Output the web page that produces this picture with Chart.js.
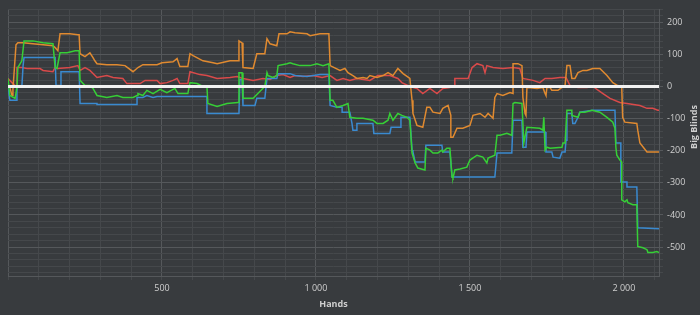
<!DOCTYPE html>
<html>
<head>
<meta charset="utf-8">
<script src="https://cdn.jsdelivr.net/npm/chart.js@4.4.1/dist/chart.umd.min.js"></script>
<style>
  html, body { margin: 0; padding: 0; background: #383b3e; }
</style>
</head>
<body>
<canvas id="chart" width="700" height="315"></canvas>
<script>
// [hand, big blinds] pairs
const orangeData = [[0,0],[6,-3],[13,-28],[16,-10],[26,130],[32,136],[49,136],[81,133],[114,130],[146,127],[153,121],[162,111],[169,164],[201,164],[227,161],[231,161],[234,102],[250,93],[266,105],[276,90],[282,80],[289,71],[321,68],[354,68],[380,65],[406,46],[422,59],[438,68],[484,68],[500,74],[536,77],[549,87],[558,62],[568,62],[584,62],[591,102],[601,96],[633,80],[666,74],[679,71],[721,80],[747,80],[750,142],[760,136],[763,59],[796,56],[808,102],[834,102],[841,149],[851,133],[873,127],[880,164],[906,164],[916,170],[932,167],[971,164],[981,158],[1013,164],[1042,164],[1046,65],[1078,50],[1094,56],[1104,43],[1120,34],[1133,25],[1153,28],[1166,25],[1175,34],[1198,28],[1218,34],[1234,43],[1250,34],[1266,56],[1283,40],[1305,25],[1312,-43],[1315,-84],[1328,-121],[1347,-127],[1360,-65],[1370,-65],[1380,-80],[1403,-84],[1412,-68],[1429,-59],[1438,-90],[1438,-158],[1445,-158],[1458,-130],[1477,-130],[1500,-121],[1510,-90],[1533,-84],[1549,-96],[1559,-84],[1572,-96],[1575,-99],[1581,-34],[1588,-22],[1607,-28],[1630,-19],[1640,-22],[1640,71],[1656,71],[1669,65],[1672,-34],[1679,-84],[1682,-90],[1685,-6],[1688,-3],[1718,-6],[1737,-3],[1744,-22],[1747,-28],[1750,-3],[1760,-3],[1766,-12],[1786,-12],[1799,-3],[1809,3],[1815,65],[1825,65],[1831,25],[1841,25],[1851,43],[1867,50],[1880,50],[1899,56],[1922,56],[1945,34],[1964,12],[1980,3],[1993,-3],[1996,-96],[2003,-111],[2042,-115],[2045,-136],[2052,-176],[2075,-204],[2114,-204]];

const redData = [[0,25],[16,9],[26,0],[29,59],[45,59],[62,56],[104,56],[114,50],[146,46],[153,59],[162,56],[201,59],[227,65],[234,50],[250,59],[266,50],[289,28],[321,34],[341,28],[373,25],[386,9],[429,9],[445,19],[484,19],[494,9],[516,12],[536,19],[549,25],[558,9],[584,9],[591,46],[623,37],[646,34],[679,25],[721,28],[744,31],[763,25],[796,19],[828,25],[851,22],[873,34],[893,37],[916,28],[932,34],[958,31],[990,34],[1020,28],[1046,34],[1068,19],[1088,25],[1110,19],[1133,25],[1175,19],[1201,34],[1240,34],[1266,25],[1279,12],[1305,0],[1328,-6],[1347,-22],[1370,-6],[1393,-22],[1412,-6],[1435,-3],[1451,3],[1451,25],[1494,25],[1507,59],[1523,71],[1542,65],[1549,43],[1555,65],[1575,59],[1607,56],[1640,59],[1662,56],[1672,25],[1705,19],[1727,12],[1744,25],[1766,25],[1792,28],[1812,28],[1825,3],[1851,-3],[1880,-3],[1899,0],[1932,-22],[1955,-37],[1987,-50],[2010,-53],[2052,-59],[2075,-68],[2094,-68],[2110,-74],[2114,-74]];

const greenData = [[0,25],[6,-28],[23,-37],[29,-3],[32,59],[45,80],[52,142],[81,142],[114,136],[146,133],[153,59],[159,56],[169,105],[192,105],[218,111],[231,111],[234,19],[250,3],[266,3],[276,-6],[289,-28],[321,-34],[354,-28],[373,-34],[406,-34],[419,-28],[422,-22],[438,-28],[451,-12],[471,-22],[494,-9],[516,-19],[542,-6],[552,-22],[584,-22],[591,12],[614,9],[633,0],[646,0],[649,-53],[679,-62],[711,-53],[747,-50],[750,43],[760,43],[763,-37],[796,-37],[834,0],[841,43],[844,34],[860,28],[873,34],[877,65],[906,71],[916,74],[925,71],[948,65],[981,65],[1003,71],[1023,65],[1042,71],[1046,-43],[1055,-43],[1068,-65],[1088,-59],[1104,-53],[1110,-96],[1133,-99],[1153,-99],[1185,-105],[1198,-115],[1218,-115],[1234,-105],[1240,-84],[1250,-105],[1266,-84],[1279,-90],[1296,-96],[1305,-105],[1312,-207],[1322,-238],[1331,-254],[1354,-260],[1357,-192],[1370,-198],[1380,-207],[1396,-207],[1409,-198],[1412,-204],[1425,-192],[1435,-192],[1442,-282],[1445,-285],[1451,-260],[1468,-257],[1490,-251],[1500,-229],[1523,-214],[1542,-220],[1555,-238],[1559,-223],[1581,-214],[1588,-152],[1598,-152],[1620,-146],[1636,-152],[1640,-53],[1646,-50],[1669,-53],[1675,-176],[1685,-127],[1727,-130],[1737,-136],[1740,-96],[1744,-198],[1750,-189],[1760,-192],[1799,-189],[1802,-176],[1809,-176],[1815,-74],[1831,-74],[1831,-90],[1851,-96],[1857,-80],[1873,-80],[1896,-74],[1922,-80],[1945,-96],[1964,-111],[1971,-130],[1974,-190],[1977,-214],[1987,-229],[1993,-235],[1993,-353],[2003,-359],[2010,-353],[2013,-362],[2029,-368],[2042,-368],[2045,-498],[2062,-502],[2075,-508],[2078,-517],[2094,-517],[2107,-514],[2114,-517]];

const blueData = [[0,0],[6,-43],[26,-43],[29,0],[45,0],[49,65],[52,90],[153,90],[156,3],[169,3],[172,46],[231,46],[234,-53],[289,-53],[289,-56],[419,-56],[419,-34],[438,-34],[451,-28],[471,-34],[484,-31],[646,-31],[646,-84],[750,-84],[753,22],[760,22],[763,-59],[802,-59],[808,-37],[834,-37],[841,25],[873,25],[877,40],[916,40],[932,34],[971,31],[1013,37],[1042,37],[1046,-59],[1068,-65],[1085,-65],[1085,-80],[1110,-80],[1117,-115],[1120,-136],[1133,-136],[1133,-115],[1185,-115],[1188,-146],[1240,-146],[1244,-127],[1273,-127],[1276,-96],[1305,-96],[1312,-198],[1315,-204],[1322,-235],[1354,-235],[1357,-183],[1409,-183],[1412,-204],[1435,-204],[1442,-282],[1581,-282],[1588,-207],[1636,-207],[1640,-105],[1669,-105],[1672,-189],[1682,-189],[1685,-142],[1744,-142],[1747,-204],[1766,-204],[1770,-220],[1792,-223],[1799,-204],[1809,-204],[1812,-167],[1815,-84],[1831,-84],[1834,-115],[1841,-115],[1851,-96],[1857,-80],[1899,-74],[1971,-74],[1974,-176],[1990,-176],[1990,-297],[2010,-297],[2010,-313],[2042,-313],[2045,-440],[2114,-443]];

const xMin = 0, xMax = 2114;
const yMin = -590, yMax = 240;
const xTickValues = [0,100,200,300,400,500,600,700,800,900,1000,1100,1200,1300,1400,1500,1600,1700,1800,1900,2000,2100];
const yTickValues = [];
for (let v = -580; v <= 240; v += 20) yTickValues.push(v);

const majorGrid = '#55585b';
const minorGrid = '#45484b';
const textColor = '#cfcfcf';
const font = { family: '"Open Sans", "DejaVu Sans", sans-serif', size: 9 };

function pts(pairs) {
  return pairs.map(p => ({ x: p[0], y: p[1] }));
}

function line(data, color, width) {
  return {
    data: pts(data),
    borderColor: color,
    borderWidth: width,
    pointRadius: 0,
    tension: 0,
    fill: false
  };
}

function thousands(v) {
  return String(v).replace(/\B(?=(\d{3})+(?!\d))/g, ' ');
}

// "Big Blinds" reads bottom-to-top, so draw it by hand
const yTitle = {
  id: 'yTitle',
  afterDraw(chart) {
    const ctx = chart.ctx;
    const y = chart.scales.y;
    ctx.save();
    ctx.translate(y.right - 6, 127);
    ctx.rotate(-Math.PI / 2);
    ctx.font = 'bold 9px "Open Sans", sans-serif';
    ctx.fillStyle = textColor;
    ctx.textAlign = 'center';
    ctx.textBaseline = 'middle';
    ctx.fillText('Big Blinds', 0, 0);
    ctx.restore();
  }
};

new Chart(document.getElementById('chart'), {
  type: 'line',
  data: {
    datasets: [
      line([[xMin, 0], [xMax, 0]], '#f2f2f2', 3),
      line(greenData, '#36cf36', 1.5),
      line(orangeData, '#e08a30', 1.5),
      line(blueData, '#3a8ad0', 1.5),
      line(redData, '#d94a4a', 1.5)
    ]
  },
  options: {
    responsive: false,
    animation: false,
    layout: { padding: { left: 8, top: 8, right: 0, bottom: 0 } },
    plugins: { legend: { display: false }, tooltip: { enabled: false } },
    scales: {
      x: {
        type: 'linear',
        min: xMin,
        max: xMax,
        afterFit: axis => { axis.height = 39; },
        afterBuildTicks: axis => { axis.ticks = xTickValues.map(v => ({ value: v })); },
        grid: {
          color: c => c.tick && c.tick.value % 500 === 0 ? majorGrid : minorGrid,
          tickColor: minorGrid,
          tickLength: 4
        },
        border: { color: majorGrid },
        ticks: {
          color: textColor,
          font: font,
          padding: 3,
          maxRotation: 0,
          autoSkip: false,
          callback: v => (v % 500 === 0 && v > 0) ? thousands(v) : ''
        },
        title: {
          display: true,
          text: 'Hands',
          color: textColor,
          font: { family: font.family, size: 9, weight: 'bold' },
          padding: { top: 4, bottom: 5 }
        }
      },
      y: {
        type: 'linear',
        position: 'right',
        min: yMin,
        max: yMax,
        afterFit: axis => { axis.width = 41; },
        afterBuildTicks: axis => { axis.ticks = yTickValues.map(v => ({ value: v })); },
        grid: {
          color: c => c.tick && c.tick.value % 100 === 0 ? majorGrid : minorGrid,
          tickColor: c => c.tick && c.tick.value % 100 === 0 ? majorGrid : minorGrid,
          tickLength: 4
        },
        border: { color: majorGrid },
        ticks: {
          color: textColor,
          font: font,
          padding: 4,
          autoSkip: false,
          callback: v => v % 100 === 0 ? String(v) : ''
        }
      }
    }
  },
  plugins: [yTitle]
});
</script>
</body>
</html>
